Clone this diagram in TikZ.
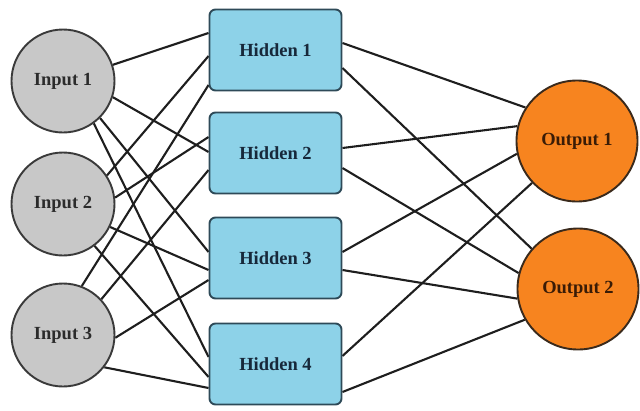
\documentclass[tikz,border=0pt]{standalone}
\usepackage{fontspec}
\setmainfont{Liberation Serif}
\usetikzlibrary{backgrounds}

\definecolor{inputfill}{HTML}{C8C8C8}
\definecolor{inputline}{HTML}{3A3A3A}
\definecolor{inputtext}{HTML}{2B2B2B}
\definecolor{hiddenfill}{HTML}{8DD2E8}
\definecolor{hiddenline}{HTML}{2E4A58}
\definecolor{hiddentext}{HTML}{17283A}
\definecolor{outputfill}{HTML}{F7841F}
\definecolor{outputline}{HTML}{3A2A1C}
\definecolor{outputtext}{HTML}{3A1C06}
\definecolor{linkcol}{HTML}{1E1E1E}

\begin{document}
\begin{tikzpicture}[x=1pt, y=-1pt,
  labelfont/.style={font=\fontsize{18.5}{22}\selectfont\bfseries},
  inputnode/.style={circle, draw=inputline, fill=inputfill, line width=1.9pt,
    minimum size=103pt, inner sep=0pt, labelfont, text=inputtext},
  hiddennode/.style={rectangle, rounded corners=6pt, draw=hiddenline, fill=hiddenfill,
    line width=1.9pt, minimum width=132pt, minimum height=81pt, inner sep=0pt,
    labelfont, text=hiddentext},
  outputnode/.style={circle, draw=outputline, fill=outputfill, line width=1.9pt,
    minimum size=121pt, inner sep=0pt, labelfont, text=outputtext},
  link/.style={draw=linkcol, line width=2.1pt}]

\useasboundingbox (0,0) rectangle (640,410);

% input layer
\node[inputnode] (i1) at (63,81)  {Input 1};
\node[inputnode] (i2) at (63,204) {Input 2};
\node[inputnode] (i3) at (63,335) {Input 3};

% hidden layer
\node[hiddennode] (h1) at (275.5,50)  {Hidden 1};
\node[hiddennode] (h2) at (275.5,153) {Hidden 2};
\node[hiddennode] (h3) at (275.5,258) {Hidden 3};
\node[hiddennode] (h4) at (275.5,364) {Hidden 4};

% output layer
\node[outputnode] (o1) at (577,141) {Output 1};
\node[outputnode] (o2) at (578,289) {Output 2};

\begin{scope}[on background layer]
  \fill[white] (0,0) rectangle (640,410);

  % input -> hidden
  \draw[link] (i1.18)  -- ([yshift=17pt]h1.west);
  \draw[link] (i1.-18) -- ([yshift=1pt]h2.west);
  \draw[link] (i1.-45) -- ([yshift=6pt]h3.west);
  \draw[link] (i1.-54) -- ([yshift=7pt]h4.west);

  \draw[link] (i2.33)  -- ([yshift=-6pt]h1.west);
  \draw[link] (i2.7)   -- ([yshift=16pt]h2.west);
  \draw[link] (i2.-26) -- ([yshift=-12pt]h3.west);
  \draw[link] (i2.-53) -- ([yshift=-13pt]h4.west);

  \draw[link] (i3.69)  -- ([yshift=-35pt]h1.west);
  \draw[link] (i3.43)  -- ([yshift=-17pt]h2.west);
  \draw[link] (i3.-3)  -- ([yshift=-22pt]h3.west);
  \draw[link] (i3.-38) -- ([yshift=-24pt]h4.west);

  % hidden -> output
  \draw[link] ([yshift=7pt]h1.east)   -- (o1.147);
  \draw[link] ([yshift=-18pt]h1.east) -- (o2.139);
  \draw[link] ([yshift=5pt]h2.east)   -- (o1.166);
  \draw[link] ([yshift=-15pt]h2.east) -- (o2.165);
  \draw[link] ([yshift=6pt]h3.east)   -- (o1.192);
  \draw[link] ([yshift=-12pt]h3.east) -- (o2.189);
  \draw[link] ([yshift=8pt]h4.east)   -- (o1.223);
  \draw[link] ([yshift=-28pt]h4.east) -- (o2.210);
\end{scope}
\end{tikzpicture}
\end{document}
